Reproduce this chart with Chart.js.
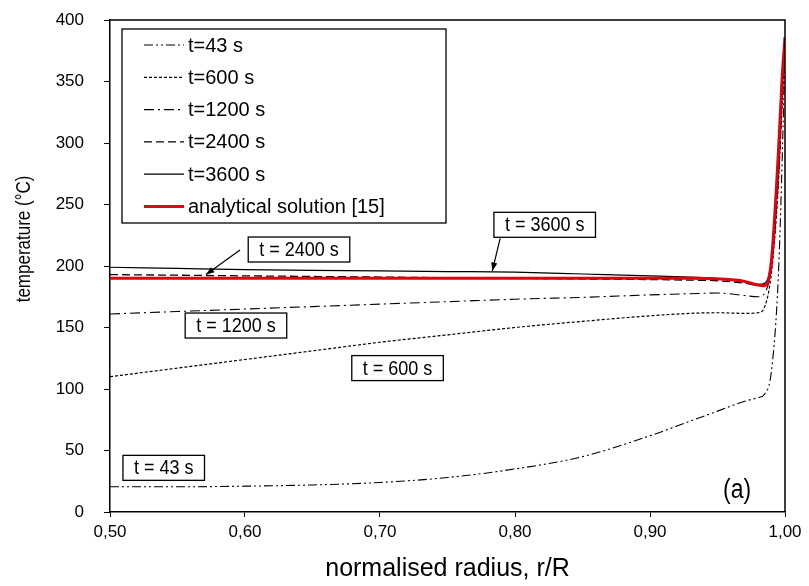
<!DOCTYPE html>
<html>
<head>
<meta charset="utf-8">
<script src="https://cdn.jsdelivr.net/npm/chart.js@4.4.1/dist/chart.umd.min.js"></script>
<style>
  html, body { margin: 0; padding: 0; background: #fff; }
</style>
</head>
<body>
<canvas id="tempChart" width="809" height="586"></canvas>
<script>
// normalised radius r/R
const radius = [0.50, 0.55, 0.60, 0.65, 0.70, 0.75, 0.80, 0.85, 0.90, 0.93, 0.95, 0.97, 0.98, 0.985, 0.99, 0.995, 0.998, 1.00];

// temperature (°C)
const t43   = [20.5, 20.5, 21, 22, 24, 28, 35, 45, 62, 74, 82, 90, 93, 96, 115, 190, 290, 380];
const t600  = [110, 117, 124, 131, 138, 144, 150, 155, 159.5, 161.5, 162, 161.5, 162, 167, 195, 265, 335, 382];
const t1200 = [161, 163, 165, 167, 169, 171, 173, 174.5, 176.5, 177.5, 178, 176, 175, 178, 200, 268, 338, 383];
const t2400 = [193, 192.5, 192, 191.5, 191, 190.5, 190, 189.5, 189, 188.5, 188, 186, 184.5, 185, 200, 275, 345, 385];
const t3600 = [199, 198, 197, 196.5, 196, 195.5, 195, 193.5, 192, 191, 190, 187, 185, 186, 205, 280, 350, 386];
const analytical = [190, 190, 190, 190, 190, 190, 190, 190, 190, 190, 189.5, 187.5, 184.5, 184, 205, 290, 355, 386];

const seriesNames = ['t=43 s', 't=600 s', 't=1200 s', 't=2400 s', 't=3600 s', 'analytical solution [15]'];
const xTickStep = 0.1;
const yTickStep = 50;

const fontMain = "'Liberation Sans', Arial, sans-serif";

// callout boxes, in data units
const callouts = [
    { text: 't = 3600 s', x: 0.822, y: 233.5, arrow: [0.789, 222.5, 0.7832, 196] },
    { text: 't = 2400 s', x: 0.640, y: 213.4, arrow: [0.5963, 213, 0.5711, 193] },
    { text: 't = 1200 s', x: 0.5933, y: 151.6 },
    { text: 't = 600 s', x: 0.713, y: 117 },
    { text: 't = 43 s', x: 0.5398, y: 35.9 }
];

function toPoints(vals) {
    return radius.map((r, i) => ({ x: r, y: vals[i] }));
}

// condensed text, like the narrow font of the original
function narrowText(ctx, text, px, py, sx) {
    ctx.save();
    ctx.translate(px, py);
    ctx.scale(sx, 1);
    ctx.fillText(text, 0, 0);
    ctx.restore();
}

const styles = [
    { color: '#000', width: 1.1, dash: [9, 3, 2, 3, 2, 3] },
    { color: '#000', width: 1.2, dash: [3, 2] },
    { color: '#000', width: 1.1, dash: [10, 4, 2, 4] },
    { color: '#000', width: 1.3, dash: [8, 4] },
    { color: '#000', width: 1.2, dash: [] },
    { color: '#e3000f', width: 3, dash: [] }
];

const allSeries = [t43, t600, t1200, t2400, t3600, analytical];

const datasets = allSeries.map((vals, i) => ({
    label: seriesNames[i],
    data: toPoints(vals),
    showLine: true,
    borderColor: styles[i].color,
    borderWidth: styles[i].width,
    borderDash: styles[i].dash,
    pointRadius: 0,
    fill: false,
    cubicInterpolationMode: 'monotone',
    order: i === 5 ? 0 : 1
}));

// top/right frame
const framePlugin = {
    id: 'frame',
    afterDraw(chart) {
        const { ctx, chartArea: a } = chart;
        ctx.save();
        ctx.strokeStyle = '#000';
        ctx.lineWidth = 1.5;
        ctx.beginPath();
        ctx.moveTo(a.left, a.top);
        ctx.lineTo(a.right, a.top);
        ctx.lineTo(a.right, a.bottom);
        ctx.stroke();
        ctx.restore();
    }
};

// legend drawn inside plot
const legendBoxPlugin = {
    id: 'legendBox',
    afterDraw(chart) {
        const { ctx, chartArea: a } = chart;
        const left = a.left + 12, top = a.top + 9;
        const w = 324, h = 194, step = 32.3;
        ctx.save();
        ctx.fillStyle = '#fff';
        ctx.fillRect(left, top, w, h);
        ctx.strokeStyle = '#000';
        ctx.lineWidth = 1.3;
        ctx.strokeRect(left, top, w, h);
        ctx.font = '20px ' + fontMain;
        ctx.textBaseline = 'middle';
        chart.data.datasets.forEach((ds, i) => {
            const y = top + 16 + i * step;
            ctx.beginPath();
            ctx.strokeStyle = ds.borderColor;
            ctx.lineWidth = ds.borderWidth;
            ctx.setLineDash(ds.borderDash);
            ctx.moveTo(left + 22, y);
            ctx.lineTo(left + 62, y);
            ctx.stroke();
            ctx.setLineDash([]);
            ctx.fillStyle = '#000';
            ctx.fillText(ds.label, left + 66, y + 1);
        });
        ctx.restore();
    }
};

// callout labels with arrows, "(a)" and y title
const calloutPlugin = {
    id: 'callouts',
    afterDraw(chart) {
        const { ctx, scales: { x, y } } = chart;
        ctx.save();
        ctx.font = '20px ' + fontMain;
        ctx.textAlign = 'center';
        ctx.textBaseline = 'middle';
        callouts.forEach(c => {
            const cx = x.getPixelForValue(c.x), cy = y.getPixelForValue(c.y);
            const tw = ctx.measureText(c.text).width * 0.9;
            const bw = tw + 22, bh = 25;
            if (c.arrow) {
                const x1 = x.getPixelForValue(c.arrow[0]), y1 = y.getPixelForValue(c.arrow[1]);
                const x2 = x.getPixelForValue(c.arrow[2]), y2 = y.getPixelForValue(c.arrow[3]);
                ctx.strokeStyle = '#000';
                ctx.lineWidth = 1.2;
                ctx.beginPath();
                ctx.moveTo(x1, y1);
                ctx.lineTo(x2, y2);
                ctx.stroke();
                const ang = Math.atan2(y2 - y1, x2 - x1);
                ctx.fillStyle = '#000';
                ctx.beginPath();
                ctx.moveTo(x2, y2);
                ctx.lineTo(x2 - 9 * Math.cos(ang - 0.35), y2 - 9 * Math.sin(ang - 0.35));
                ctx.lineTo(x2 - 9 * Math.cos(ang + 0.35), y2 - 9 * Math.sin(ang + 0.35));
                ctx.closePath();
                ctx.fill();
            }
            ctx.fillStyle = '#fff';
            ctx.fillRect(cx - bw / 2, cy - bh / 2, bw, bh);
            ctx.strokeStyle = '#000';
            ctx.lineWidth = 1.3;
            ctx.strokeRect(cx - bw / 2, cy - bh / 2, bw, bh);
            ctx.fillStyle = '#000';
            narrowText(ctx, c.text, cx, cy + 1, 0.9);
        });

        ctx.font = '27px ' + fontMain;
        narrowText(ctx, '(a)', x.getPixelForValue(0.9645), y.getPixelForValue(17.5), 0.85);

        // y title, sits a bit above axis centre
        ctx.translate(24, y.getPixelForValue(222));
        ctx.rotate(-Math.PI / 2);
        ctx.font = '20px ' + fontMain;
        narrowText(ctx, 'temperature (°C)', 0, 0, 0.85);
        ctx.restore();
    }
};

new Chart(document.getElementById('tempChart'), {
    type: 'scatter',
    data: { datasets },
    options: {
        responsive: false,
        animation: false,
        layout: { padding: { top: 20, right: 24, left: 0, bottom: 0 } },
        plugins: {
            legend: { display: false },
            tooltip: { enabled: false }
        },
        scales: {
            x: {
                type: 'linear',
                min: 0.5,
                max: 1.0,
                ticks: {
                    stepSize: xTickStep,
                    color: '#000',
                    font: { family: fontMain, size: 17 },
                    padding: 5,
                    maxRotation: 0,
                    callback: (v) => v.toFixed(2).replace('.', ',')
                },
                grid: { drawOnChartArea: false, drawTicks: true, tickLength: 5, color: '#000' },
                border: { display: true, color: '#000', width: 1.5 },
                title: {
                    display: true,
                    text: 'normalised radius, r/R',
                    color: '#000',
                    font: { family: fontMain, size: 25 },
                    padding: { top: 4, bottom: 2 }
                },
                afterFit: (s) => { s.height = 74; }
            },
            y: {
                min: 0,
                max: 400,
                ticks: {
                    stepSize: yTickStep,
                    color: '#000',
                    font: { family: fontMain, size: 17 },
                    padding: 20
                },
                grid: { drawOnChartArea: false, drawTicks: true, tickLength: 6, color: '#000' },
                border: { display: true, color: '#000', width: 1.5 },
                afterFit: (s) => {
                    s.width = 110;
                    s.paddingTop = 0;
                    s.paddingBottom = 0;
                }
            }
        }
    },
    plugins: [framePlugin, legendBoxPlugin, calloutPlugin]
});
</script>
</body>
</html>
